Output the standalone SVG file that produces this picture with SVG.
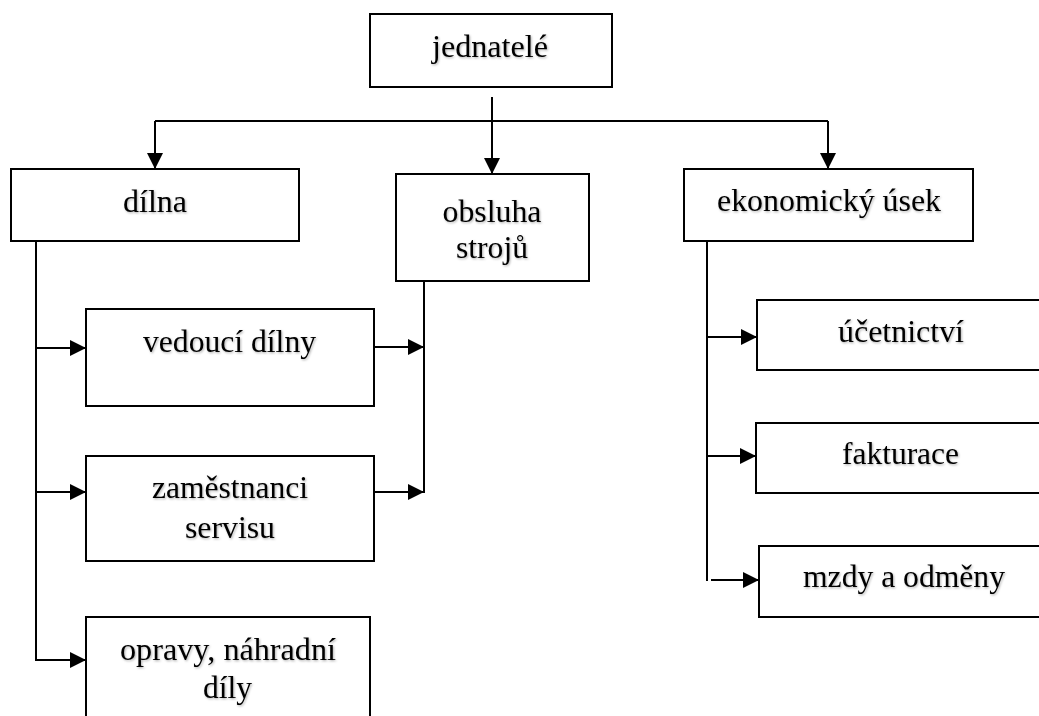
<svg xmlns="http://www.w3.org/2000/svg" width="1039" height="716" viewBox="0 0 1039 716">
  <defs>
    <marker id="arrow" markerUnits="userSpaceOnUse" markerWidth="18" markerHeight="18" refX="16" refY="8" orient="auto">
      <path d="M0,0 L16,8 L0,16 Z" fill="#000"/>
    </marker>
    <filter id="soft" x="-5%" y="-20%" width="110%" height="140%">
      <feDropShadow dx="1" dy="1.2" stdDeviation="0.8" flood-color="#000" flood-opacity="0.3"/>
    </filter>
    <style>
      .box { fill: #fff; stroke: #000; stroke-width: 2; }
      .lbl { font-family: "Liberation Serif", "Times New Roman", serif; font-size: 32px; fill: #000; text-anchor: middle; filter: url(#soft); }
      .wire { fill: none; stroke: #000; stroke-width: 2; }
      .arr { marker-end: url(#arrow); }
    </style>
  </defs>
  <rect width="1039" height="716" fill="#fff"/>

  <!-- connectors -->
  <g id="connectors">
    <line class="wire arr" x1="492" y1="97" x2="492" y2="174"/>
    <polyline class="wire" points="155,121 828,121"/>
    <line class="wire arr" x1="155" y1="121" x2="155" y2="169"/>
    <line class="wire arr" x1="828" y1="121" x2="828" y2="169"/>

    <!-- dílna branch -->
    <line class="wire" x1="36" y1="241" x2="36" y2="661"/>
    <line class="wire arr" x1="36" y1="348" x2="86" y2="348"/>
    <line class="wire arr" x1="36" y1="492" x2="86" y2="492"/>
    <line class="wire arr" x1="36" y1="660" x2="86" y2="660"/>

    <!-- obsluha strojů collector -->
    <line class="wire" x1="424" y1="281" x2="424" y2="493"/>
    <line class="wire arr" x1="374" y1="347" x2="424" y2="347"/>
    <line class="wire arr" x1="374" y1="492" x2="424" y2="492"/>

    <!-- ekonomický úsek branch -->
    <line class="wire" x1="707" y1="241" x2="707" y2="581"/>
    <line class="wire arr" x1="707" y1="337" x2="757" y2="337"/>
    <line class="wire arr" x1="707" y1="456" x2="756" y2="456"/>
    <line class="wire arr" x1="711" y1="580" x2="759" y2="580"/>
  </g>

  <g id="jednatele">
    <rect class="box" x="370" y="14" width="242" height="73"/>
    <text class="lbl" x="490" y="57" textLength="116" lengthAdjust="spacingAndGlyphs">jednatelé</text>
  </g>
  <g id="dilna">
    <rect class="box" x="11" y="169" width="288" height="72"/>
    <text class="lbl" x="155" y="212" textLength="64" lengthAdjust="spacingAndGlyphs">dílna</text>
  </g>
  <g id="obsluha-stroju">
    <rect class="box" x="396" y="174" width="193" height="107"/>
    <text class="lbl" x="492" y="222" textLength="99" lengthAdjust="spacingAndGlyphs">obsluha</text>
    <text class="lbl" x="492" y="258" textLength="72" lengthAdjust="spacingAndGlyphs">strojů</text>
  </g>
  <g id="ekonomicky-usek">
    <rect class="box" x="684" y="169" width="289" height="72"/>
    <text class="lbl" x="829" y="211" textLength="224" lengthAdjust="spacingAndGlyphs">ekonomický úsek</text>
  </g>
  <g id="vedouci-dilny">
    <rect class="box" x="86" y="309" width="288" height="97"/>
    <text class="lbl" x="229.5" y="352" textLength="173" lengthAdjust="spacingAndGlyphs">vedoucí dílny</text>
  </g>
  <g id="zamestnanci-servisu">
    <rect class="box" x="86" y="456" width="288" height="105"/>
    <text class="lbl" x="230" y="498" textLength="156" lengthAdjust="spacingAndGlyphs">zaměstnanci</text>
    <text class="lbl" x="230" y="538" textLength="90" lengthAdjust="spacingAndGlyphs">servisu</text>
  </g>
  <g id="opravy-nahradni-dily">
    <rect class="box" x="86" y="617" width="284" height="110"/>
    <text class="lbl" x="228" y="660" textLength="216" lengthAdjust="spacingAndGlyphs">opravy, náhradní</text>
    <text class="lbl" x="227.5" y="698" textLength="49" lengthAdjust="spacingAndGlyphs">díly</text>
  </g>
  <g id="ucetnictvi">
    <rect class="box" x="757" y="300" width="290" height="70"/>
    <text class="lbl" x="901" y="342" textLength="126" lengthAdjust="spacingAndGlyphs">účetnictví</text>
  </g>
  <g id="fakturace">
    <rect class="box" x="756" y="423" width="291" height="70"/>
    <text class="lbl" x="900.5" y="464" textLength="117" lengthAdjust="spacingAndGlyphs">fakturace</text>
  </g>
  <g id="mzdy-a-odmeny">
    <rect class="box" x="759" y="546" width="288" height="71"/>
    <text class="lbl" x="904" y="587" textLength="202" lengthAdjust="spacingAndGlyphs">mzdy a odměny</text>
  </g>
</svg>
